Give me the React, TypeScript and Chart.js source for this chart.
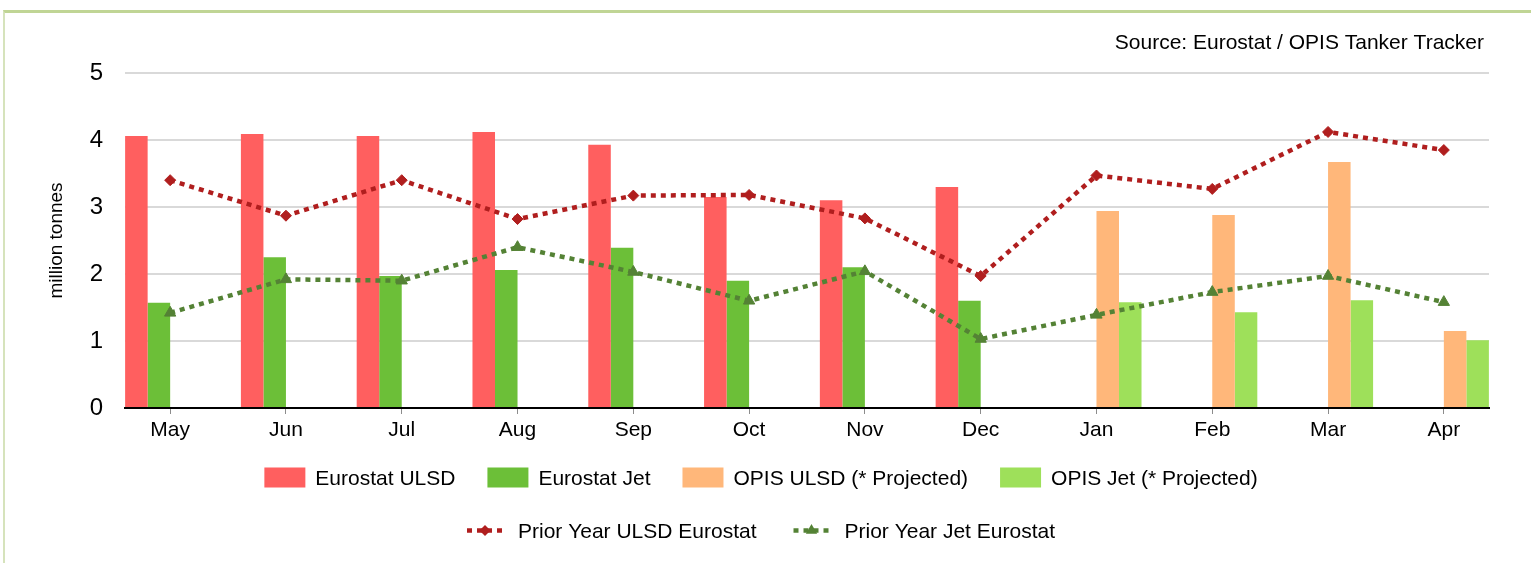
import React, { useEffect, useRef } from "react";
import { Chart, registerables } from "chart.js";

Chart.register(...registerables);

const FONT = "'Liberation Sans', Arial, sans-serif";

const months = ["May", "Jun", "Jul", "Aug", "Sep", "Oct", "Nov", "Dec", "Jan", "Feb", "Mar", "Apr"];
const yTicks = [0, 1, 2, 3, 4, 5];

const eurostatUlsd = [4.06, 4.09, 4.06, 4.12, 3.93, 3.15, 3.10, 3.30, null, null, null, null];
const eurostatJet = [1.57, 2.25, 1.97, 2.06, 2.39, 1.90, 2.10, 1.60, null, null, null, null];
const opisUlsd = [null, null, null, null, null, null, null, null, 2.94, 2.88, 3.67, 1.15];
const opisJet = [null, null, null, null, null, null, null, null, 1.58, 1.43, 1.61, 1.01];
const priorUlsd = [3.40, 2.87, 3.40, 2.82, 3.17, 3.18, 2.83, 1.97, 3.47, 3.27, 4.12, 3.85];
const priorJet = [1.42, 1.92, 1.90, 2.40, 2.03, 1.60, 2.04, 1.03, 1.39, 1.73, 1.97, 1.58];

const SOURCE_TEXT = "Source: Eurostat / OPIS Tanker Tracker";
const Y_TITLE = "million tonnes";

const toXY = (arr: (number | null)[]) => arr.map((v, i) => ({ x: i, y: v }));

const drawMarker = (ctx: CanvasRenderingContext2D, style: string, cx: number, cy: number, r: number, color: string) => {
  ctx.save();
  ctx.setLineDash([]);
  ctx.fillStyle = color;
  ctx.beginPath();
  if (style === "rectRot") {
    ctx.moveTo(cx, cy - r);
    ctx.lineTo(cx + r, cy);
    ctx.lineTo(cx, cy + r);
    ctx.lineTo(cx - r, cy);
  } else {
    for (let k = 0; k < 3; k++) {
      const a = -Math.PI / 2 + (k * 2 * Math.PI) / 3;
      const px = cx + Math.cos(a) * r;
      const py = cy + Math.sin(a) * r;
      if (k === 0) ctx.moveTo(px, py);
      else ctx.lineTo(px, py);
    }
  }
  ctx.closePath();
  ctx.fill();
  ctx.restore();
};

const overlayPlugin = {
  id: "overlay",
  afterDraw(chart: any) {
    const ctx: CanvasRenderingContext2D = chart.ctx;
    ctx.save();
    ctx.font = `21px ${FONT}`;
    ctx.fillStyle = "#000";
    ctx.textAlign = "right";
    ctx.textBaseline = "alphabetic";
    ctx.fillText(SOURCE_TEXT, 1484, 49);

    ctx.textAlign = "left";
    const center = 761;
    const ds = chart.data.datasets;
    const bars = ds.filter((d: any) => d.type === "bar");
    const lines = ds.filter((d: any) => d.type === "line");

    // row 1: bar boxes
    const boxW = 41, boxH = 20, boxGap = 10, gap1 = 32;
    const w1 = bars.map((d: any) => boxW + boxGap + ctx.measureText(d.label).width);
    const tot1 = w1.reduce((a: number, b: number) => a + b, 0) + gap1 * (bars.length - 1);
    let x = center - tot1 / 2;
    bars.forEach((d: any, i: number) => {
      ctx.fillStyle = d.backgroundColor;
      ctx.fillRect(x, 467.5, boxW, boxH);
      ctx.fillStyle = "#000";
      ctx.fillText(d.label, x + boxW + boxGap, 484.5);
      x += w1[i] + gap1;
    });

    // row 2: line samples
    const lineW = 36, lineGap = 15, gap2 = 37;
    const w2 = lines.map((d: any) => lineW + lineGap + ctx.measureText(d.label).width);
    const tot2 = w2.reduce((a: number, b: number) => a + b, 0) + gap2 * (lines.length - 1);
    x = center - tot2 / 2;
    const ly = 530.5;
    lines.forEach((d: any, i: number) => {
      ctx.save();
      ctx.strokeStyle = d.borderColor;
      ctx.lineWidth = d.borderWidth;
      ctx.setLineDash(d.borderDash);
      ctx.beginPath();
      ctx.moveTo(x, ly);
      ctx.lineTo(x + lineW, ly);
      ctx.stroke();
      ctx.restore();
      drawMarker(ctx, d.pointStyle, x + lineW / 2, ly, d.pointRadius, d.borderColor);
      ctx.fillStyle = "#000";
      ctx.fillText(d.label, x + lineW + lineGap, 537.5);
      x += w2[i] + gap2;
    });
    ctx.restore();
  },
};

export default function App() {
  const ref = useRef<HTMLCanvasElement | null>(null);

  useEffect(() => {
    if (!ref.current) return;
    const chart = new Chart(ref.current, {
      type: "bar",
      data: {
        datasets: [
          {
            type: "line",
            label: "Prior Year ULSD Eurostat",
            data: toXY(priorUlsd),
            borderColor: "#b01e1e",
            backgroundColor: "#b01e1e",
            borderWidth: 4.5,
            borderDash: [5, 5],
            pointStyle: "rectRot",
            pointRadius: 5.5,
            pointBorderWidth: 1,
            pointBackgroundColor: "#b01e1e",
            pointBorderColor: "#b01e1e",
            fill: false,
            tension: 0,
            order: 0,
          } as any,
          {
            type: "line",
            label: "Prior Year Jet Eurostat",
            data: toXY(priorJet),
            borderColor: "#548235",
            backgroundColor: "#548235",
            borderWidth: 4.5,
            borderDash: [5, 5],
            pointStyle: "triangle",
            pointRadius: 6.5,
            pointBorderWidth: 1,
            pointBackgroundColor: "#548235",
            pointBorderColor: "#548235",
            fill: false,
            tension: 0,
            order: 0,
          } as any,
          {
            type: "bar",
            label: "Eurostat ULSD",
            data: toXY(eurostatUlsd),
            backgroundColor: "#ff5f5f",
            borderWidth: 0,
            order: 1,
          } as any,
          {
            type: "bar",
            label: "Eurostat Jet",
            data: toXY(eurostatJet),
            backgroundColor: "#6cbf38",
            borderWidth: 0,
            order: 1,
          } as any,
          {
            type: "bar",
            label: "OPIS ULSD (* Projected)",
            data: toXY(opisUlsd),
            backgroundColor: "#ffb77a",
            borderWidth: 0,
            order: 1,
          } as any,
          {
            type: "bar",
            label: "OPIS Jet (* Projected)",
            data: toXY(opisJet),
            backgroundColor: "#9ee05a",
            borderWidth: 0,
            order: 1,
          } as any,
        ],
      },
      options: {
        responsive: false,
        animation: false,
        devicePixelRatio: 1,
        events: [],
        layout: { padding: { left: 45, right: 42, top: 73, bottom: 115 } },
        datasets: {
          bar: { categoryPercentage: 0.778, barPercentage: 1 },
        } as any,
        plugins: {
          legend: { display: false },
          tooltip: { enabled: false },
          title: { display: false },
        },
        scales: {
          x: {
            type: "linear",
            min: -0.39,
            max: 11.39,
            offset: false,
            afterFit: (s: any) => {
              s.height = 40;
            },
            afterBuildTicks: (s: any) => {
              s.ticks = months.map((_, i) => ({ value: i }));
            },
            ticks: {
              autoSkip: false,
              maxRotation: 0,
              padding: 4,
              color: "#000",
              font: { family: FONT, size: 21 },
              callback: (v: any) => months[Math.round(Number(v))] ?? "",
            },
            grid: {
              offset: false,
              drawOnChartArea: false,
              drawTicks: true,
              tickLength: 6,
              color: "#8c8c8c",
              lineWidth: 1,
            },
            border: { display: true, color: "#000", width: 2 },
          } as any,
          y: {
            type: "linear",
            min: 0,
            max: 5,
            afterFit: (s: any) => {
              s.width = 80;
            },
            afterBuildTicks: (s: any) => {
              s.ticks = yTicks.map((v) => ({ value: v }));
            },
            ticks: {
              padding: 22,
              color: "#000",
              font: { family: FONT, size: 24 },
            },
            grid: {
              drawTicks: false,
              color: "#d9d9d9",
              lineWidth: 2,
            },
            border: { display: false },
            title: {
              display: true,
              text: Y_TITLE,
              color: "#000",
              font: { family: FONT, size: 19 },
              padding: { top: 0, bottom: 0 },
            },
          } as any,
        },
      },
      plugins: [overlayPlugin],
    });
    return () => chart.destroy();
  }, []);

  return (
    <div style={{ position: "fixed", left: 0, top: 0, width: 1531, height: 563, background: "#fff", overflow: "hidden" }}>
      <div
        style={{
          position: "absolute",
          left: 3,
          top: 10,
          width: 1700,
          height: 800,
          borderTop: "3px solid #c0d595",
          borderLeft: "2px solid #d6e3bc",
        }}
      />
      <canvas ref={ref} width={1531} height={563} style={{ position: "absolute", left: 0, top: 0 }} />
    </div>
  );
}
